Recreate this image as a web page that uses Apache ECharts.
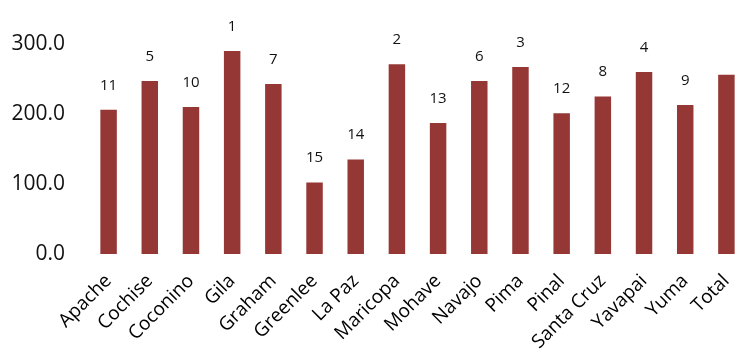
<!DOCTYPE html>
<html>
<head>
<meta charset="utf-8">
<script src="https://cdn.jsdelivr.net/npm/echarts@6/dist/echarts.min.js"></script>
<style>html,body{margin:0;padding:0;background:#fff}#c{width:747px;height:360px}</style>
</head>
<body>
<div id="c"></div>
<script>
const categories = ['Apache','Cochise','Coconino','Gila','Graham','Greenlee','La Paz','Maricopa','Mohave','Navajo','Pima','Pinal','Santa Cruz','Yavapai','Yuma','Total'];
const values = [206, 247, 210, 290, 243, 102, 135, 271, 187, 247, 267, 201, 225, 260, 213, 256];
const ranks = ['11','5','10','1','7','15','14','2','13','6','3','12','8','4','9',''];
const yTicks = [0, 100, 200, 300];

const chart = echarts.init(document.getElementById('c'), null, {renderer: 'canvas'});
chart.setOption({
  animation: false,
  grid: {left: 88, right: -4, top: 44, bottom: 106},
  xAxis: {
    type: 'category',
    data: categories,
    axisLine: {show: false},
    axisTick: {show: false},
    axisLabel: {rotate: 45, margin: 24, fontSize: 19, color: '#000', fontFamily: 'Open Sans', interval: 0}
  },
  yAxis: {
    type: 'value',
    min: yTicks[0],
    max: yTicks[yTicks.length - 1],
    interval: 100,
    splitLine: {show: false},
    axisLine: {show: false},
    axisTick: {show: false},
    axisLabel: {margin: 23, fontSize: 21, color: '#111', fontFamily: 'Open Sans', formatter: v => v.toFixed(1)}
  },
  series: [{
    type: 'bar',
    data: values,
    barWidth: '40%',
    itemStyle: {color: '#953735'},
    label: {
      show: true,
      position: 'top',
      distance: 17,
      fontSize: 15,
      color: '#111',
      fontFamily: 'Open Sans',
      formatter: p => ranks[p.dataIndex]
    }
  }]
});
</script>
</body>
</html>
